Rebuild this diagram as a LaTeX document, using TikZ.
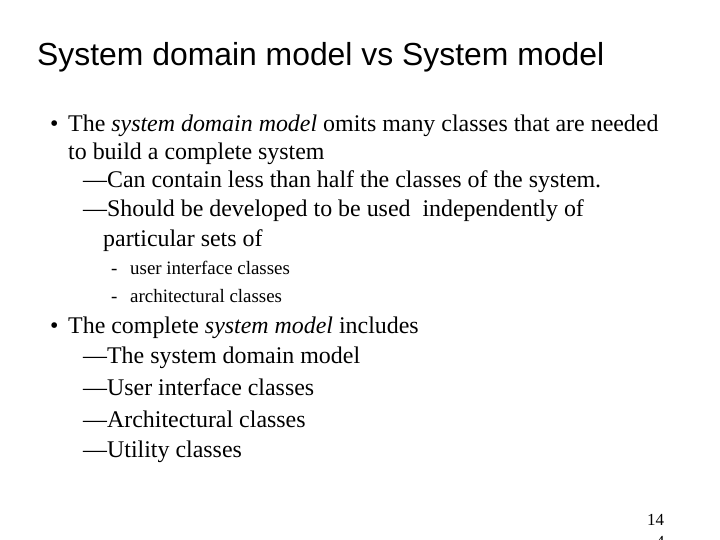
\documentclass[tikz,border=0pt]{standalone}
\usepackage{fontspec}
\setmainfont{Liberation Serif}
\newfontfamily\arialf{Liberation Sans}
\begin{document}
\begin{tikzpicture}[x=1bp,y=-1bp,
  body/.style={anchor=base west,inner sep=0pt,font=\fontsize{24}{28}\selectfont},
  small/.style={anchor=base west,inner sep=0pt,font=\fontsize{19}{23}\selectfont},
  num/.style={anchor=base west,inner sep=0pt,font=\fontsize{17}{20}\selectfont}]
\useasboundingbox (0,0) rectangle (720,540);
\node[anchor=base west,inner sep=0pt,font=\arialf\fontsize{32}{38}\selectfont] (title) at (37,66) {System domain model vs System model};
\node[body] (b1) at (50,132) {•};
\node[body] (l1) at (68,132) {The \textit{system domain model} omits many classes that are needed};
\node[body] (l2) at (68,160) {to build a complete system};
\node[body] (l3) at (83,188) {—Can contain less than half the classes of the system.};
\node[body] (l4) at (83,217) {—Should be developed to be used\ \ independently of};
\node[body] (l5) at (103,247) {particular sets of};
\node[small] (d1) at (111,275) {-};
\node[small] (s1) at (130,275) {user interface classes};
\node[small] (d2) at (111,302) {-};
\node[small] (s2) at (130,302) {architectural classes};
\node[body] (b2) at (50,333) {•};
\node[body] (m1) at (68,333) {The complete \textit{system model} includes};
\node[body] (m2) at (83,363) {—The system domain model};
\node[body] (m3) at (83,395) {—User interface classes};
\node[body] (m4) at (83,427) {—Architectural classes};
\node[body] (m5) at (83,457) {—Utility classes};
\node[num] (n1) at (647,525) {14};
\node[num] (n2) at (656,547) {4};
\end{tikzpicture}
\end{document}
